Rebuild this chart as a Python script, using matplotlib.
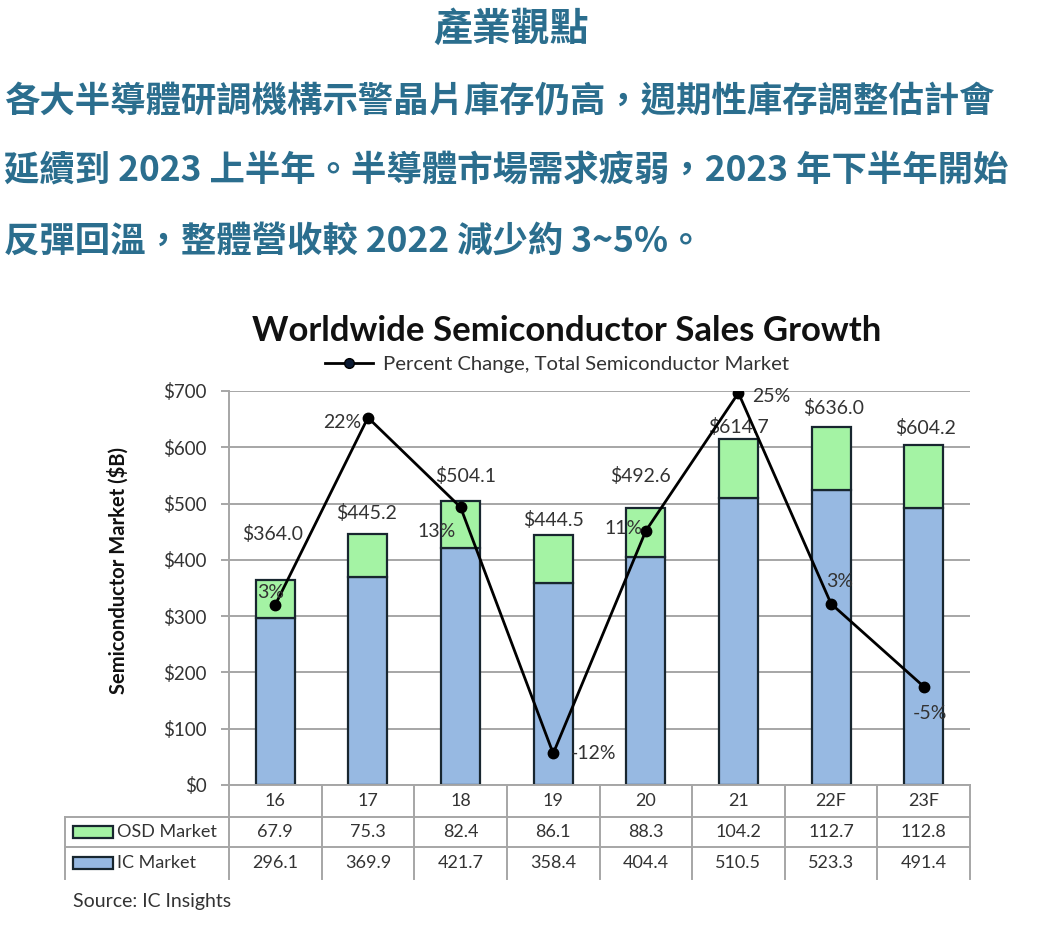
import matplotlib
matplotlib.use('Agg')
import matplotlib.pyplot as plt
from matplotlib.lines import Line2D
from matplotlib.patches import Rectangle

# data
years = ['16', '17', '18', '19', '20', '21', '22F', '23F']
osd = [67.9, 75.3, 82.4, 86.1, 88.3, 104.2, 112.7, 112.8]
ic = [296.1, 369.9, 421.7, 358.4, 404.4, 510.5, 523.3, 491.4]
totals = [364.0, 445.2, 504.1, 444.5, 492.6, 614.7, 636.0, 604.2]
pct = [3.3, 22.3, 13.2, -11.8, 10.8, 24.8, 3.4, -5.0]

headline = '產業觀點'
body = ['各大半導體研調機構示警晶片庫存仍高，週期性庫存調整估計會',
        '延續到 2023 上半年。半導體市場需求疲弱，2023 年下半年開始',
        '反彈回溫，整體營收較 2022 減少約 3~5%。']

cjk = ['Noto Sans CJK TC', 'DejaVu Sans']
latin = ['Lato', 'DejaVu Sans']
teal = '#2b6e8e'
grey = '#a6a6a6'
txt = '#333333'
blue = '#97b9e2'
green = '#a4f3a4'
edge = '#18262f'

fig = plt.figure(figsize=(10.43, 9.26), dpi=100)
W, H = 1043, 926

def fx(px):
    return px / W

def fy(py):
    return 1 - py / H

# chinese header text
fig.text(fx(511), fy(29), headline, family=cjk, weight='bold', fontsize=28,
         color=teal, ha='center', va='center')
for i, line in enumerate(body):
    fig.text(fx(4), fy(101 + i * 70), line, family=cjk, weight='bold',
             fontsize=25.5, color=teal, ha='left', va='center')

# chart
ax = fig.add_axes([fx(229), fy(785), fx(970) - fx(229), fy(391) - fy(785)])
x = list(range(len(years)))
ax.bar(x, ic, width=0.42, color=blue, edgecolor=edge, linewidth=1.6, zorder=2)
ax.bar(x, osd, bottom=ic, width=0.42, color=green, edgecolor=edge,
       linewidth=1.6, zorder=2)
ax.set_xlim(-0.5, len(years) - 0.5)
ax.set_ylim(0, 700)
ax.set_yticks(range(0, 800, 100))
ax.set_yticklabels([r'\$%d' % v for v in range(0, 800, 100)],
                   family=latin, fontsize=13.5, color=txt)
ax.set_xticks([])
ax.yaxis.grid(True, color=grey, linewidth=1.4)
ax.set_axisbelow(True)
for s in ['top', 'right']:
    ax.spines[s].set_visible(False)
for s in ['left', 'bottom']:
    ax.spines[s].set_color(grey)
    ax.spines[s].set_linewidth(1.4)
ax.tick_params(axis='y', length=6, width=1.4, color=grey, pad=10)

# total labels above bars (offsets in px, hand placed like the source)
tot_dx = [-3, -1, 5, 0, -5, 0, 3, 2]
tot_dy = [46, 21, 25, 15, 32, 12, 19, 17]
for i, t in enumerate(totals):
    ax.annotate(r'\$%.1f' % t, (i, ic[i] + osd[i]),
                xytext=(tot_dx[i] * 0.72, tot_dy[i] * 0.72),
                textcoords='offset points', ha='center', va='center',
                family=latin, fontsize=14, color=txt, zorder=5)

# percent change line on hidden secondary axis
ax2 = ax.twinx()
ax2.set_ylim(-15, 25)
ax2.axis('off')
ax2.plot(x, pct, color='black', linewidth=2, marker='o', markersize=7.5,
         zorder=4)
pct_dx = [-5, -26, -24, 40, -22, 33, 9, 6]
pct_dy = [12, -5, -24, 0, 2, -4, 22, -27]
for i, p in enumerate(pct):
    ax2.annotate('%d%%' % round(p), (i, p),
                 xytext=(pct_dx[i] * 0.72, pct_dy[i] * 0.72),
                 textcoords='offset points', ha='center', va='center',
                 family=latin, fontsize=14, color=txt, zorder=5)

# titles
fig.text(fx(567), fy(331), 'Worldwide Semiconductor Sales Growth',
         family=latin, weight='bold', fontsize=25, color='#111111',
         ha='center', va='center')
fig.legend(handles=[Line2D([], [], color='black', linewidth=2, marker='o',
                           markersize=7, markerfacecolor='#0b1a33')],
           labels=['Percent Change, Total Semiconductor Market'],
           loc='center', bbox_to_anchor=(fx(557), fy(364)), frameon=False,
           handlelength=2.4, handletextpad=0.5,
           prop={'family': latin, 'size': 14.6}, labelcolor=txt)
fig.text(fx(118), fy(571), r'Semiconductor Market (\$B)', family=latin,
         weight='bold', fontsize=14.5, color='#111111', rotation=90,
         ha='center', va='center')

# data table under the axis
ncol = len(years)
t = ax.transAxes
left = (65 - 229) / 741.0

def ay(py):
    return (785 - py) / 394.0

lk = dict(color=grey, linewidth=1.4, transform=t, clip_on=False)
ax.add_line(Line2D([left, 1], [ay(817), ay(817)], **lk))
ax.add_line(Line2D([left, 1], [ay(847), ay(847)], **lk))
ax.add_line(Line2D([left, left], [ay(817), ay(879)], **lk))
for j in range(ncol + 1):
    ax.add_line(Line2D([j / ncol, j / ncol], [0, ay(879)], **lk))

rows = [(801, None, years), (832, 'OSD Market', osd), (863, 'IC Market', ic)]
for py, name, vals in rows:
    for j, v in enumerate(vals):
        s = v if isinstance(v, str) else '%.1f' % v
        ax.text((j + 0.5) / ncol, ay(py), s, transform=t, ha='center',
                va='center', family=latin, fontsize=13, color=txt)
    if name:
        col = green if name.startswith('OSD') else blue
        ax.add_patch(Rectangle(((73 - 229) / 741.0, ay(py + 6)), 40 / 741.0,
                               12 / 394.0, transform=t, clip_on=False,
                               facecolor=col, edgecolor=edge, linewidth=1.6))
        ax.text((117 - 229) / 741.0, ay(py), name, transform=t, ha='left',
                va='center', family=latin, fontsize=13, color=txt)

fig.text(fx(73), fy(902), 'Source: IC Insights', family=latin, fontsize=14,
         color=txt, ha='left', va='center')

fig.savefig('out.png', dpi=100, facecolor='white')
